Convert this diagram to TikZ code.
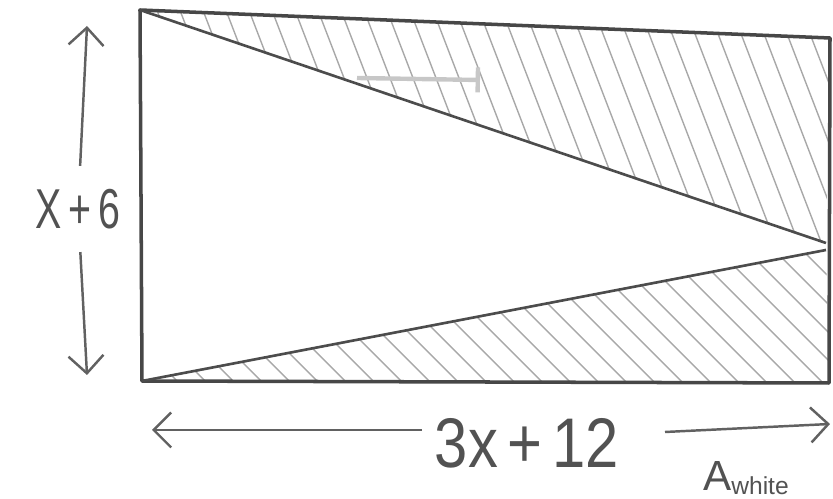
\documentclass[tikz,border=0pt]{standalone}
\usepackage{fontspec}
\usepackage{graphicx}
\setsansfont{Liberation Sans}
\usetikzlibrary{arrows.meta}

% narrow, tall letters like the hand lettering
\newcommand{\narrowtext}[2]{\scalebox{#1}[1]{#2}}

\begin{document}
\begin{tikzpicture}[
      x=0.02cm,y=-0.02cm,
      >={Straight Barb[length=3.5mm,width=7mm]},
      edge/.style={draw=black!72,line width=2pt,line join=round},
      diag/.style={draw=black!70,line width=1.5pt},
      hatch/.style={draw=black!34,line width=0.8pt},
      dim/.style={draw=black!62,line width=1.4pt,->},
      lab/.style={font=\sffamily\fontsize{32}{34}\selectfont,text=black!68,inner sep=1pt},
      biglab/.style={font=\sffamily\fontsize{40}{42}\selectfont,text=black!68,inner sep=1pt}
    ]
    \useasboundingbox (0,0) rectangle (833,499);
    % corners of the rectangle
    \coordinate (tl) at (140,10);
    \coordinate (tr) at (830,38);
    \coordinate (br) at (829,383);
    \coordinate (bl) at (142,381);
    % where the two slanted lines meet the right side
    \coordinate (mu) at (826,243);
    \coordinate (md) at (826,250);
    % hatching of the shaded triangles
    \begin{scope}
      \clip (tl) -- (tr) -- (mu) -- cycle;
      \foreach \i in {0,...,32}
        \draw[hatch] (130+\i*23,0) -- ++(150,390);
    \end{scope}
    \begin{scope}
      \clip (bl) -- (md) -- (br) -- cycle;
      \foreach \i in {0,...,32}
        \draw[hatch] (-60+\i*28,200) -- ++(200,200);
    \end{scope}
    % faint stroke inside the upper triangle
    \coordinate (fa) at (357,78);
    \coordinate (fb) at (480,80);
    \draw[draw=black!22,line width=2.5pt,-{Bar[width=5mm,line width=2.5pt]}] (fa) -- (fb);
    % outline and the two slanted lines
    \draw[edge] (tl) -- (tr) -- (br) -- (bl) -- cycle;
    \draw[diag] (tl) -- (mu);
    \draw[diag] (bl) -- (md);
    % height
    \node[lab] (h) at (78,209) {\narrowtext{0.7}{X\,+\,6}};
    \coordinate (ht) at (87,26);
    \coordinate (hb) at (87,375);
    \draw[dim,shorten <=12pt] (h) -- (ht);
    \draw[dim,shorten <=12pt] (h) -- (hb);
    % width
    \node[biglab] (w) at (527,443) {\narrowtext{0.85}{3x\,+\,12}};
    \coordinate (wl) at (422,430);
    \coordinate (wr) at (665,432);
    \coordinate (wle) at (152,430);
    \coordinate (wre) at (830,424);
    \draw[dim] (wl) -- (wle);
    \draw[dim] (wr) -- (wre);
    % area label
    \node[font=\sffamily\fontsize{24}{26}\selectfont,text=black!68] (aw) at (746,478)
      {A\raisebox{-0.2ex}{\fontsize{14}{14}\selectfont white}};
  \end{tikzpicture}
\end{document}
